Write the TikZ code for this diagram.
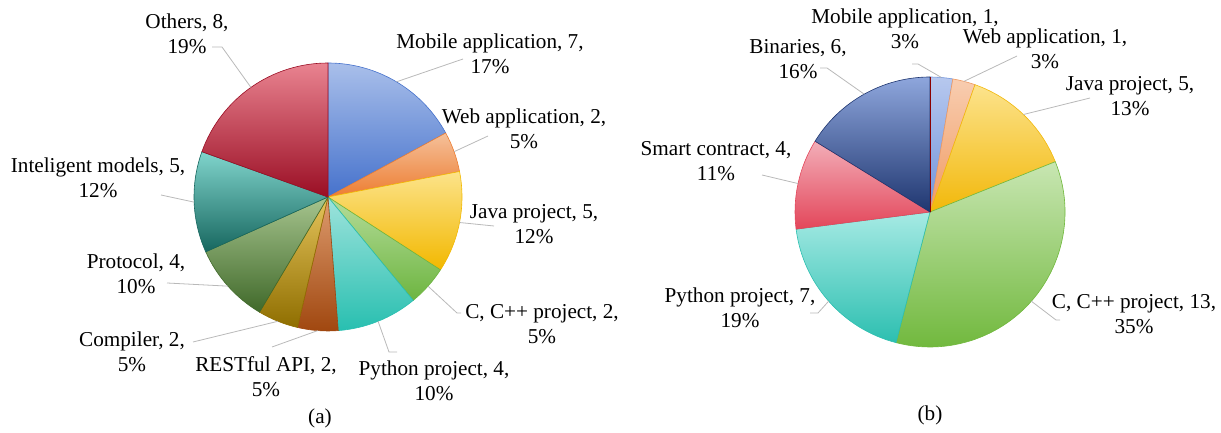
\documentclass[tikz,border=0pt]{standalone}
\usepackage{fontspec}
\setmainfont{Liberation Serif}
\usetikzlibrary{calc}

% slice colours, top and bottom of the gradient
\definecolor{amobT}{HTML}{A9BFEA}\definecolor{amobB}{HTML}{4672CC}
\definecolor{awebT}{HTML}{F5C09A}\definecolor{awebB}{HTML}{ED7D31}
\definecolor{ajavT}{HTML}{FCE38A}\definecolor{ajavB}{HTML}{F2B800}
\definecolor{accT}{HTML}{B5DC9A}\definecolor{accB}{HTML}{6DB540}
\definecolor{apyT}{HTML}{9EE3DC}\definecolor{apyB}{HTML}{28BFB0}
\definecolor{arestT}{HTML}{DE9C6F}\definecolor{arestB}{HTML}{A0470F}
\definecolor{acompT}{HTML}{E5C45C}\definecolor{acompB}{HTML}{8F6E00}
\definecolor{aprotT}{HTML}{A6C48E}\definecolor{aprotB}{HTML}{40692A}
\definecolor{aintT}{HTML}{80D4CC}\definecolor{aintB}{HTML}{17675F}
\definecolor{aothT}{HTML}{E98390}\definecolor{aothB}{HTML}{9A0E24}

\definecolor{bmobT}{HTML}{B7C8EE}\definecolor{bmobB}{HTML}{7093DB}
\definecolor{bwebT}{HTML}{F8CDB0}\definecolor{bwebB}{HTML}{F09A62}
\definecolor{bjavT}{HTML}{FCE38C}\definecolor{bjavB}{HTML}{F2B80A}
\definecolor{bccT}{HTML}{C8E6B2}\definecolor{bccB}{HTML}{70B83C}
\definecolor{bpyT}{HTML}{A6EAE4}\definecolor{bpyB}{HTML}{2CBFB0}
\definecolor{bsmT}{HTML}{F3AEB8}\definecolor{bsmB}{HTML}{E3465A}
\definecolor{bbinT}{HTML}{8EA6DC}\definecolor{bbinB}{HTML}{1F3670}

% centre, radius, start angle, end angle, top colour, bottom colour
\newcommand{\pieslice}[6]{%
    \path[slice, top color=#5, bottom color=#6, draw=#6]
        (#1) -- ($(#1)+(#3:#2)$) arc[start angle=#3, end angle=#4, radius=#2] -- cycle;}

\begin{document}
\begin{tikzpicture}[
            x = 0.5pt, y = 0.5pt, % one unit per pixel
            label text/.style = {align=center, inner sep=0pt,
                font=\fontsize{10.6}{12.5}\selectfont},
            leader/.style = {draw=gray!55, line width=0.4pt},
            slice/.style = {line width=0.3pt},
        ]
        \useasboundingbox (0,0) rectangle (1221,433);

        % (a)
        \coordinate (ca) at (328,236);
        \pieslice{ca}{134}{90}{28.54}{amobT}{amobB}
        \pieslice{ca}{134}{28.54}{10.98}{awebT}{awebB}
        \pieslice{ca}{134}{10.98}{-32.93}{ajavT}{ajavB}
        \pieslice{ca}{134}{-32.93}{-50.49}{accT}{accB}
        \pieslice{ca}{134}{-50.49}{-85.61}{apyT}{apyB}
        \pieslice{ca}{134}{-85.61}{-103.17}{arestT}{arestB}
        \pieslice{ca}{134}{-103.17}{-120.73}{acompT}{acompB}
        \pieslice{ca}{134}{-120.73}{-155.85}{aprotT}{aprotB}
        \pieslice{ca}{134}{-155.85}{-199.76}{aintT}{aintB}
        \pieslice{ca}{134}{-199.76}{-270}{aothT}{aothB}

        \node[label text] (amob) at (490,379) {Mobile application, 7,\\17\%};
        \node[label text] (aweb) at (524,304) {Web application, 2,\\5\%};
        \node[label text] (ajav) at (534,209) {Java project, 5,\\12\%};
        \node[label text] (acc) at (542,109) {C, C++ project, 2,\\5\%};
        \node[label text] (apy) at (434,52) {Python project, 4,\\10\%};
        \node[label text] (arest) at (266,56) {RESTful API, 2,\\5\%};
        \node[label text] (acomp) at (132,81) {Compiler, 2,\\5\%};
        \node[label text] (aprot) at (136,159) {Protocol, 4,\\10\%};
        \node[label text] (aint) at (98,255) {Inteligent models, 5,\\12\%};
        \node[label text] (aoth) at (187,399) {Others, 8,\\19\%};
        \node[label text] (acap) at (320,15) {(a)};

        \coordinate (amob-e) at (463,374);
        \coordinate (aweb-e) at (488,297);
        \coordinate (ajav-e) at (494,207);
        \coordinate (acc-k) at (457,120);
        \coordinate (acc-e) at (461,120);
        \coordinate (apy-k) at (389,81);
        \coordinate (apy-e) at (397,81);
        \coordinate (arest-e) at (272,86);
        \coordinate (acomp-e) at (193,91);
        \coordinate (aprot-e) at (167,150);
        \coordinate (aint-e) at (161,238);
        \coordinate (aoth-k) at (222,386);
        \coordinate (aoth-e) at (212,386);

        \draw[leader] ($(ca)+(59.27:134)$) -- (amob-e);
        \draw[leader] ($(ca)+(19.76:134)$) -- (aweb-e);
        \draw[leader] ($(ca)+(-10.98:134)$) -- (ajav-e);
        \draw[leader] ($(ca)+(-41.71:134)$) -- (acc-k) -- (acc-e);
        \draw[leader] ($(ca)+(-68.05:134)$) -- (apy-k) -- (apy-e);
        \draw[leader] ($(ca)+(-94.39:134)$) -- (arest-e);
        \draw[leader] ($(ca)+(-111.95:134)$) -- (acomp-e);
        \draw[leader] ($(ca)+(-138.29:134)$) -- (aprot-e);
        \draw[leader] ($(ca)+(-177.80:134)$) -- (aint-e);
        \draw[leader] ($(ca)+(125.12:134)$) -- (aoth-k) -- (aoth-e);

        % (b)
        \coordinate (cb) at (930,221);
        \pieslice{cb}{135}{90}{80.27}{bmobT}{bmobB}
        \pieslice{cb}{135}{80.27}{70.54}{bwebT}{bwebB}
        \pieslice{cb}{135}{70.54}{21.89}{bjavT}{bjavB}
        \pieslice{cb}{135}{21.89}{-104.59}{bccT}{bccB}
        \pieslice{cb}{135}{-104.59}{-172.70}{bpyT}{bpyB}
        \pieslice{cb}{135}{-172.70}{-211.62}{bsmT}{bsmB}
        \pieslice{cb}{135}{-211.62}{-270}{bbinT}{bbinB}
        \draw[draw=red!55!black, line width=0.5pt] (cb) -- ($(cb)+(90:135)$);

        \node[label text] (bmob) at (905,404) {Mobile application, 1,\\3\%};
        \node[label text] (bweb) at (1045,384) {Web application, 1,\\3\%};
        \node[label text] (bjav) at (1130,337) {Java project, 5,\\13\%};
        \node[label text] (bcc) at (1134,119) {C, C++ project, 13,\\35\%};
        \node[label text] (bpy) at (740,125) {Python project, 7,\\19\%};
        \node[label text] (bsm) at (716,272) {Smart contract, 4,\\11\%};
        \node[label text] (bbin) at (798,374) {Binaries, 6,\\16\%};
        \node[label text] (bcap) at (930,18) {(b)};

        \coordinate (bmob-k) at (918,369);
        \coordinate (bmob-e) at (912,369);
        \coordinate (bweb-e) at (1017,377);
        \coordinate (bjav-e) at (1090,335);
        \coordinate (bcc-k) at (1056,113);
        \coordinate (bcc-e) at (1060,113);
        \coordinate (bpy-k) at (818,120);
        \coordinate (bpy-e) at (810,120);
        \coordinate (bsm-e) at (762,258);
        \coordinate (bbin-k) at (827,365);
        \coordinate (bbin-e) at (820,365);

        \draw[leader] ($(cb)+(85.14:135)$) -- (bmob-k) -- (bmob-e);
        \draw[leader] ($(cb)+(75.41:135)$) -- (bweb-e);
        \draw[leader] ($(cb)+(46.22:135)$) -- (bjav-e);
        \draw[leader] ($(cb)+(-41.35:135)$) -- (bcc-k) -- (bcc-e);
        \draw[leader] ($(cb)+(-138.65:135)$) -- (bpy-k) -- (bpy-e);
        \draw[leader] ($(cb)+(167.84:135)$) -- (bsm-e);
        \draw[leader] ($(cb)+(119.19:135)$) -- (bbin-k) -- (bbin-e);
    \end{tikzpicture}
\end{document}
